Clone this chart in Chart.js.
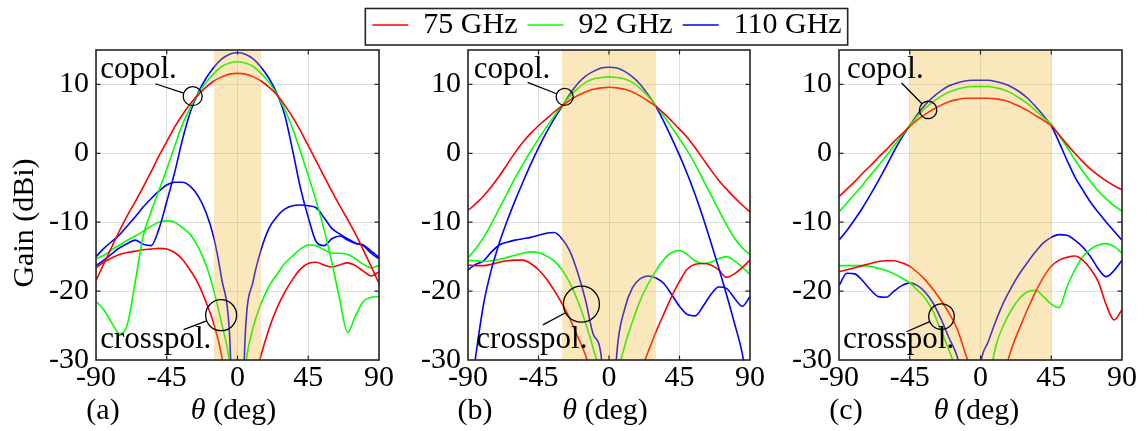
<!DOCTYPE html>
<html>
  <head>
    <script src="https://cdn.jsdelivr.net/npm/chart.js"></script>
    <style>
      body { margin: 0; background: #fff; }
      canvas { position: absolute; left: 0; top: 0; }
    </style>
  </head>

  <body>
    <canvas id="panel_a" width="1147" height="431"></canvas>
    <canvas id="panel_b" width="1147" height="431"></canvas>
    <canvas id="panel_c" width="1147" height="431"></canvas>

  <script>
    // angle grid shared by every curve (deg)
    const theta = [-90, -85, -80, -75, -70, -65, -60, -55, -50, -45, -40, -35, -30, -25, -20, -15, -10, -5, 0,
                   5, 10, 15, 20, 25, 30, 35, 40, 45, 50, 55, 60, 65, 70, 75, 80, 85, 90];
    const xTicks = [-90, -45, 0, 45, 90];
    const yTicks = [-30, -20, -10, 0, 10];
    const freqs = ["75 GHz", "92 GHz", "110 GHz"];

    // (a) gain in dBi
    const a_co_75 = [-18.5, -16.0, -13.6, -11.2, -9.0, -7.0, -4.9, -2.7, -0.4, 1.7, 3.8, 5.6, 7.2, 8.5, 9.6, 10.5, 11.1, 11.5, 11.6,
                     11.5, 11.1, 10.5, 9.6, 8.5, 7.0, 5.3, 3.3, 1.1, -1.1, -3.3, -5.5, -7.6, -9.6, -11.7, -14.0, -16.4, -18.9];
    const a_co_92 = [-21.5, -22.7, -24.6, -26.2, -24.8, -18.6, -12.0, -8.5, -5.4, -2.3, 1.0, 4.2, 6.6, 8.7, 10.3, 11.6, 12.6, 13.1, 13.3,
                     13.1, 12.6, 11.6, 10.3, 8.6, 6.4, 3.6, 0.3, -3.2, -6.9, -11.0, -15.8, -21.2, -26.0, -23.6, -21.5, -20.9, -20.8];
    const a_co_110 = [-16.3, -15.5, -14.6, -13.7, -13.1, -12.6, -13.2, -13.4, -11.0, -7.0, -2.8, 2.0, 6.0, 8.8, 10.9, 12.5, 13.7, 14.4, 14.6,
                      14.4, 13.7, 12.5, 10.9, 8.7, 5.6, 0.5, -5.0, -9.3, -12.8, -13.4, -12.4, -12.0, -12.6, -13.1, -13.4, -14.5, -15.3];
    const a_x_75 = [-16.6, -15.8, -15.2, -14.7, -14.4, -14.2, -14.0, -13.9, -13.8, -13.9, -14.4, -15.4, -17.0, -18.9, -21.6, -24.8, -29.5, -38, -45,
                    -40, -34, -29.3, -25.5, -22.5, -20.2, -18.3, -16.8, -16.0, -15.8, -16.2, -16.5, -16.2, -15.9, -16.3, -17.1, -17.8, -17.2];
    const a_x_92 = [-15.3, -14.8, -14.0, -13.3, -12.6, -12.0, -11.3, -10.6, -10.0, -9.8, -10.0, -10.8, -11.8, -13.6, -16.2, -20.0, -24.8, -30.5, -45,
                    -31, -25.2, -21.8, -19.3, -17.6, -16.0, -14.9, -13.9, -13.3, -13.4, -14.0, -14.5, -14.5, -14.7, -15.3, -16.1, -16.6, -16.3];
    const a_x_110 = [-15.0, -13.8, -12.8, -11.8, -10.5, -9.2, -7.8, -6.6, -5.5, -4.6, -4.2, -4.2, -4.8, -6.2, -8.6, -12.3, -18.3, -26.5, -60,
                     -26, -18.5, -14.0, -10.9, -9.2, -8.1, -7.6, -7.5, -7.6, -7.9, -9.3, -10.9, -11.7, -12.4, -13.0, -13.3, -14.2, -15.1];

    // (b)
    const b_co_75 = [-8.3, -7.3, -6.2, -4.8, -3.3, -1.6, 0.1, 1.6, 2.9, 4.0, 5.0, 6.0, 6.9, 7.7, 8.4, 8.9, 9.3, 9.5, 9.6,
                     9.5, 9.3, 8.9, 8.3, 7.6, 6.8, 5.8, 4.7, 3.5, 2.3, 0.8, -0.8, -2.4, -3.9, -5.2, -6.4, -7.5, -8.5];
    const b_co_92 = [-15.2, -13.8, -12.2, -10.2, -8.0, -5.8, -3.6, -1.6, 0.3, 2.1, 3.8, 5.4, 6.9, 8.3, 9.4, 10.3, 10.8, 11.0, 11.1,
                     11.0, 10.8, 10.3, 9.4, 8.3, 6.9, 5.4, 3.8, 2.1, 0.4, -1.6, -3.8, -6.0, -8.2, -10.4, -12.3, -13.7, -14.7];
    const b_co_110 = [-38, -29.3, -21.8, -16.8, -13.0, -9.8, -6.9, -4.2, -1.6, 0.8, 3.0, 5.0, 6.8, 8.6, 10.1, 11.2, 11.9, 12.4, 12.5,
                      12.4, 11.9, 11.1, 10.0, 8.5, 6.8, 4.6, 2.2, -0.3, -3.0, -6.0, -9.3, -12.9, -16.6, -20.5, -24.6, -29.0, -36];
    const b_x_75 = [-16.2, -16.3, -16.3, -16.1, -15.8, -15.6, -15.5, -15.5, -16.0, -16.9, -18.2, -19.9, -21.8, -24.0, -26.6, -29.3, -33, -38, -45,
                    -42, -38, -34.5, -31.8, -28.8, -25.9, -23.3, -20.8, -18.6, -16.8, -16.1, -16.0, -16.2, -16.9, -18.0, -17.5, -16.6, -15.5];
    const b_x_92 = [-15.5, -15.6, -15.7, -15.6, -15.4, -15.1, -14.8, -14.5, -14.3, -14.4, -14.9, -15.6, -16.9, -18.8, -21.4, -24.6, -28.4, -33, -45,
                    -33, -28, -24.4, -21.3, -19.0, -17.0, -15.4, -14.4, -14.1, -14.7, -15.6, -16.0, -15.8, -15.3, -15.0, -15.6, -16.5, -17.6];
    const b_x_110 = [-16.9, -16.1, -15.6, -14.3, -13.3, -12.9, -12.6, -12.4, -12.2, -11.9, -11.6, -11.5, -12.4, -14.2, -17.3, -21.3, -26.3, -29.4, -50,
                     -29.0, -22.6, -19.5, -18.2, -17.8, -18.1, -18.9, -20.5, -22.2, -23.4, -23.6, -22.2, -20.5, -19.4, -19.6, -21.0, -22.2, -20.8];

    // (c)
    const c_co_75 = [-6.3, -5.2, -4.1, -2.9, -1.8, -0.6, 0.5, 1.7, 2.8, 3.9, 4.9, 5.7, 6.4, 7.0, 7.5, 7.8, 8.0, 8.0, 8.0,
                     8.0, 7.9, 7.7, 7.3, 6.8, 6.2, 5.5, 4.8, 4.0, 2.7, 1.3, 0.0, -1.2, -2.3, -3.2, -4.0, -4.7, -5.3];
    const c_co_92 = [-8.5, -7.2, -5.9, -4.6, -3.2, -1.8, -0.4, 1.1, 2.6, 4.0, 5.4, 6.6, 7.5, 8.3, 8.9, 9.3, 9.6, 9.7, 9.7,
                     9.7, 9.5, 9.2, 8.7, 8.0, 7.2, 6.2, 5.2, 4.2, 2.6, 0.9, -0.9, -2.6, -4.1, -5.5, -6.6, -7.6, -8.4];
    const c_co_110 = [-12.6, -11.2, -9.6, -7.9, -6.0, -4.0, -1.9, 0.3, 2.3, 4.0, 5.7, 7.1, 8.2, 9.1, 9.8, 10.2, 10.5, 10.6, 10.6,
                      10.6, 10.4, 10.1, 9.6, 8.9, 8.0, 6.8, 5.5, 4.0, 1.6, -1.0, -3.4, -5.3, -7.1, -8.6, -10.0, -11.3, -12.6];
    const c_x_75 = [-17.2, -16.9, -16.6, -16.3, -16.0, -15.7, -15.6, -15.6, -15.9, -16.4, -17.3, -18.4, -19.8, -21.4, -23.2, -25.4, -28.8, -32.5, -40,
                    -45, -36, -32, -28.2, -25.3, -22.6, -20.1, -18.0, -16.4, -15.5, -15.1, -14.9, -15.5, -16.8, -18.7, -22.0, -24.2, -22.7];
    const c_x_92 = [-16.3, -16.3, -16.3, -16.3, -16.4, -16.7, -17.0, -17.5, -18.1, -18.8, -19.9, -21.1, -23.0, -25.8, -28.6, -32, -38, -43, -47,
                    -34, -27.8, -24.8, -22.6, -21.0, -20.1, -19.9, -20.8, -21.9, -22.4, -19.4, -16.9, -15.0, -13.9, -13.3, -13.1, -13.5, -14.5];
    const c_x_110 = [-19.2, -17.4, -17.5, -18.5, -19.8, -20.8, -20.9, -20.0, -19.2, -18.8, -19.2, -20.2, -21.8, -24.1, -26.8, -29.4, -34, -42, -30.6,
                     -27.3, -24.2, -21.5, -19.3, -17.4, -15.8, -14.3, -13.0, -12.2, -11.8, -11.9, -12.6, -13.6, -15.0, -16.8, -17.9, -17.0, -15.5];

    // half width of the shaded band (deg)
    const band_a = 15, band_b = 30, band_c = 45;

    const colour_list = ["#ff0000", "#00ff00", "#0000ff"];
    const FONT = "'Liberation Serif', 'DejaVu Serif', 'Times New Roman', serif";
    const AXIS = "#262626";

    // callouts: text anchor, leader start, circle centre (data units), radius (px)
    const notes_a = [
      { text: "copol.", at: [-87.3, 11.0], from: [-52.3, 10.1], circle: [-28.5, 8.3], r: 9.5 },
      { text: "crosspol.", at: [-87.3, -28.2], from: [-34.3, -25.6], circle: [-10.4, -23.5], r: 15.5 },
    ];
    const notes_b = [
      { text: "copol.", at: [-86.4, 11.0], from: [-52.0, 10.3], circle: [-28.3, 8.2], r: 8.5 },
      { text: "crosspol.", at: [-84.7, -28.2], from: [-42.2, -24.9], circle: [-17.6, -21.9], r: 18 },
    ];
    const notes_c = [
      { text: "copol.", at: [-84.9, 11.0], from: [-50.2, 10.2], circle: [-33.3, 6.3], r: 8.7 },
      { text: "crosspol.", at: [-87.4, -28.2], from: [-47.1, -25.9], circle: [-24.8, -23.7], r: 12.8 },
    ];

    function curve(label, vals, colour) {
      return {
        label: label,
        data: theta.map((t, i) => ({ x: t, y: vals[i] })),
        borderColor: colour,
        backgroundColor: colour,
        borderWidth: 1.6,
        pointRadius: 0,
        fill: false,
        cubicInterpolationMode: "monotone",
        clip: 0,
      };
    }

    function decor(band, tag, notes, opts) {
      return {
        id: "decor",
        afterDatasetsDraw(chart) {
          const { ctx, chartArea: a, scales: { x } } = chart;
          const x0 = x.getPixelForValue(-band);
          const x1 = x.getPixelForValue(band);
          ctx.save();
          ctx.fillStyle = "rgba(237,177,32,0.3)";
          ctx.fillRect(x0, a.top, x1 - x0, a.bottom - a.top);
          ctx.restore();
        },
        afterDraw(chart) {
          const { ctx, chartArea: a, scales: { x, y } } = chart;
          ctx.save();

          // box and inward ticks
          ctx.strokeStyle = AXIS;
          ctx.lineWidth = 1.6;
          ctx.strokeRect(a.left, a.top, a.right - a.left, a.bottom - a.top);
          ctx.lineWidth = 1.2;
          ctx.beginPath();
          xTicks.slice(1, -1).forEach((v) => {
            const px = x.getPixelForValue(v);
            ctx.moveTo(px, a.bottom); ctx.lineTo(px, a.bottom - 4.5);
            ctx.moveTo(px, a.top); ctx.lineTo(px, a.top + 4.5);
          });
          yTicks.slice(1).forEach((v) => {
            const py = y.getPixelForValue(v);
            ctx.moveTo(a.left, py); ctx.lineTo(a.left + 4.5, py);
            ctx.moveTo(a.right, py); ctx.lineTo(a.right - 4.5, py);
          });
          ctx.stroke();

          // callouts
          ctx.strokeStyle = "#000";
          ctx.fillStyle = "#000";
          ctx.lineWidth = 1.3;
          ctx.font = `31px ${FONT}`;
          ctx.textAlign = "left";
          ctx.textBaseline = "alphabetic";
          notes.forEach((n) => {
            const cx = x.getPixelForValue(n.circle[0]);
            const cy = y.getPixelForValue(n.circle[1]);
            const lx = x.getPixelForValue(n.from[0]);
            const ly = y.getPixelForValue(n.from[1]);
            const d = Math.hypot(cx - lx, cy - ly);
            ctx.beginPath();
            ctx.arc(cx, cy, n.r, 0, 2 * Math.PI);
            ctx.stroke();
            ctx.beginPath();
            ctx.moveTo(lx, ly);
            ctx.lineTo(cx - ((cx - lx) / d) * n.r, cy - ((cy - ly) / d) * n.r);
            ctx.stroke();
            ctx.fillText(n.text, x.getPixelForValue(n.at[0]), y.getPixelForValue(n.at[1]));
          });

          // x label and panel tag
          ctx.font = `30px ${FONT}`;
          ctx.fillText(tag, a.left + 7 - ctx.measureText(tag).width / 2, 419);
          ctx.font = `italic 30px ${FONT}`;
          const w1 = ctx.measureText("\u03b8").width;
          ctx.font = `30px ${FONT}`;
          const w2 = ctx.measureText(" (deg)").width;
          const sx = (a.left + a.right) / 2 - 4 - (w1 + w2) / 2;
          ctx.font = `italic 30px ${FONT}`;
          ctx.fillText("\u03b8", sx, 419);
          ctx.font = `30px ${FONT}`;
          ctx.fillText(" (deg)", sx + w1, 419);

          if (opts.yTitle) {
            ctx.save();
            ctx.translate(25, 223);
            ctx.rotate(-Math.PI / 2);
            ctx.textAlign = "center";
            ctx.textBaseline = "middle";
            ctx.fillText(opts.yTitle, 0, 0);
            ctx.restore();
          }

          if (opts.legend) {
            const hb = chart.legend.legendHitBoxes;
            const last = hb[hb.length - 1];
            const left = hb[0].left - 7;
            const right = last.left + last.width + 6;
            ctx.strokeStyle = AXIS;
            ctx.lineWidth = 1.6;
            ctx.strokeRect(left, 8.5, right - left, 36.5);
          }
          ctx.restore();
        },
      };
    }

    function build_panel(id, co, cross, band, tag, notes, lay) {
      const sets = [];
      co.forEach((v, i) => sets.push(curve(freqs[i], v, colour_list[i])));
      cross.forEach((v, i) => sets.push(curve(freqs[i] + " x", v, colour_list[i])));

      const tickFont = { family: FONT, size: 30 };
      const scales = {
        x: {
          type: "linear",
          min: -90,
          max: 90,
          afterBuildTicks: (s) => { s.ticks = xTicks.map((v) => ({ value: v })); },
          afterFit: (s) => { s.height = 71; },
          grid: { color: "rgba(38,38,38,0.15)", drawTicks: false },
          border: { display: false },
          ticks: { font: tickFont, color: "#000", padding: 0, maxRotation: 0, autoSkip: false },
        },
        y: {
          type: "linear",
          min: -30,
          max: 15,
          afterBuildTicks: (s) => { s.ticks = yTicks.map((v) => ({ value: v })); },
          afterFit: (s) => { s.width = lay.yWidth; },
          grid: { color: "rgba(38,38,38,0.15)", drawTicks: false },
          border: { display: false },
          ticks: { font: tickFont, color: "#000", padding: 7 },
        },
      };
      if (lay.rightWidth) {
        scales.y2 = {
          type: "linear",
          position: "right",
          grid: { display: false },
          border: { display: false },
          ticks: { display: false },
          afterFit: (s) => { s.width = lay.rightWidth; },
        };
      }

      return new Chart(document.getElementById(id), {
        type: "line",
        data: { datasets: sets },
        options: {
          responsive: false,
          animation: false,
          devicePixelRatio: 1,
          events: [],
          layout: { padding: lay.padding },
          scales: scales,
          plugins: {
            tooltip: { enabled: false },
            legend: lay.legend
              ? {
                  display: true,
                  position: "top",
                  labels: {
                    usePointStyle: true,
                    pointStyle: "line",
                    pointStyleWidth: 36,
                    color: "#000",
                    padding: 10,
                    font: { family: FONT, size: 30 },
                    filter: (item) => item.datasetIndex < 3,
                  },
                }
              : { display: false },
          },
        },
        plugins: [decor(band, tag, notes, { legend: lay.legend, yTitle: lay.yTitle })],
      });
    }

    build_panel("panel_a", [a_co_75, a_co_92, a_co_110], [a_x_75, a_x_92, a_x_110], band_a, "(a)", notes_a,
      { padding: { left: 0, right: 768, top: 50, bottom: 0 }, yWidth: 96, yTitle: "Gain (dBi)" });
    build_panel("panel_b", [b_co_75, b_co_92, b_co_110], [b_x_75, b_x_92, b_x_110], band_b, "(b)", notes_b,
      { padding: { left: 67, right: 0, top: 0, bottom: 0 }, yWidth: 401, rightWidth: 397, legend: true });
    build_panel("panel_c", [c_co_75, c_co_92, c_co_110], [c_x_75, c_x_92, c_x_110], band_c, "(c)", notes_c,
      { padding: { left: 0, right: 25, top: 50, bottom: 0 }, yWidth: 839 });
  </script>
  </body>
</html>
